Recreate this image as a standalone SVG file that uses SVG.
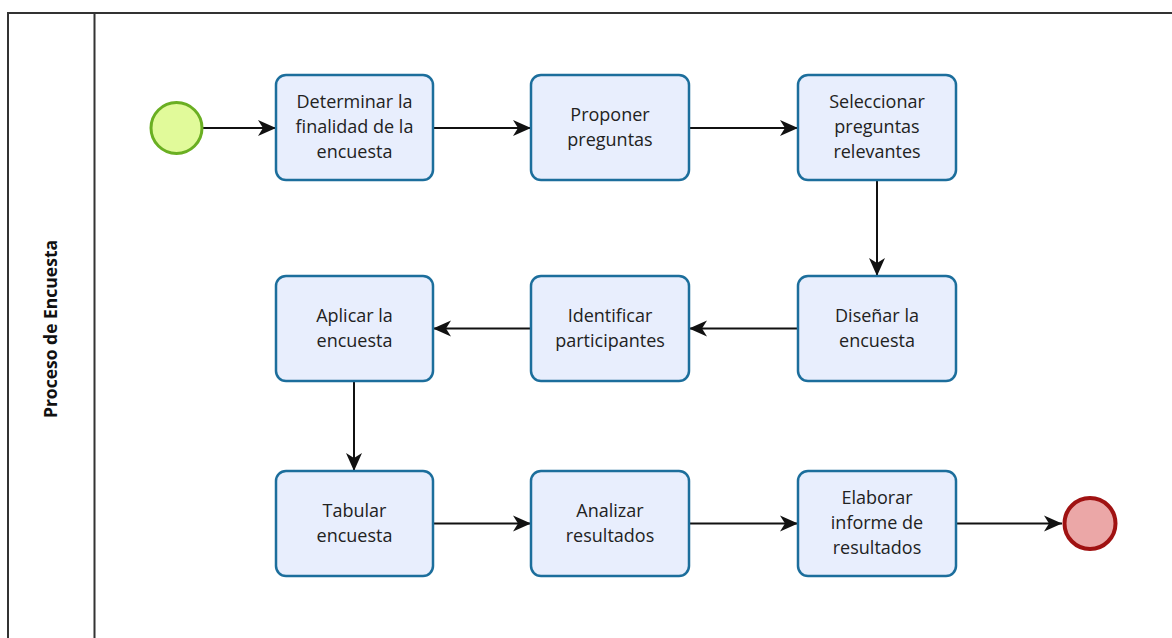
<svg xmlns="http://www.w3.org/2000/svg" width="1172" height="638" viewBox="0 0 1172 638">
  <defs>
    <style>
      .pool { fill: #ffffff; stroke: #333333; stroke-width: 2; }
      .task rect { fill: #e8eefd; stroke: #1c6e9c; stroke-width: 2.5; }
      .task text { font-family: "Open Sans", "Noto Sans", sans-serif; font-size: 18px; fill: #222222; text-anchor: middle; }
      .flow { fill: none; stroke: #111111; stroke-width: 2; marker-end: url(#arrow); }
      .lane-label { font-family: "Open Sans", "Noto Sans", sans-serif; font-size: 17.5px; font-weight: bold; fill: #111111; text-anchor: middle; }
    </style>
    <marker id="arrow" viewBox="0 0 20 20" refX="19" refY="10" markerWidth="20" markerHeight="20" markerUnits="userSpaceOnUse" orient="auto">
      <path d="M1,2 L19,10 L1,18 L6,10 Z" fill="#111111"/>
    </marker>
  </defs>

  <rect width="1172" height="638" fill="#ffffff"/>

  <!-- pool with its lane header -->
  <g id="pool">
    <rect class="pool" x="8" y="13" width="1180" height="640"/>
    <line x1="94.5" y1="13" x2="94.5" y2="640" stroke="#333333" stroke-width="2"/>
    <text class="lane-label" transform="translate(57,329) rotate(-90)">Proceso de Encuesta</text>
  </g>

  <!-- sequence flows -->
  <g id="connectors">
    <line class="flow" x1="203" y1="128" x2="276" y2="128"/>
    <line class="flow" x1="433" y1="128" x2="531" y2="128"/>
    <line class="flow" x1="689" y1="128" x2="798" y2="128"/>
    <line class="flow" x1="877" y1="180" x2="877" y2="276"/>
    <line class="flow" x1="798" y1="328.5" x2="689" y2="328.5"/>
    <line class="flow" x1="531" y1="328.5" x2="433" y2="328.5"/>
    <line class="flow" x1="354" y1="381" x2="354" y2="471"/>
    <line class="flow" x1="433" y1="523.5" x2="531" y2="523.5"/>
    <line class="flow" x1="689" y1="523.5" x2="798" y2="523.5"/>
    <line class="flow" x1="956" y1="523.5" x2="1062" y2="523.5"/>
  </g>

  <!-- events -->
  <g id="start">
    <circle cx="176.5" cy="128" r="25.5" fill="#e1fa9a" stroke="#6aaf22" stroke-width="3"/>
  </g>
  <g id="end">
    <circle cx="1090" cy="523.5" r="25.5" fill="#eba7a7" stroke="#a01212" stroke-width="4"/>
  </g>

  <!-- tasks -->
  <g id="task1" class="task">
    <rect x="276" y="75" width="157" height="105" rx="10"/>
    <text x="354.5" y="108">Determinar la</text>
    <text x="354.5" y="133">finalidad de la</text>
    <text x="354.5" y="158">encuesta</text>
  </g>
  <g id="task2" class="task">
    <rect x="531" y="75" width="158" height="105" rx="10"/>
    <text x="610" y="120.5">Proponer</text>
    <text x="610" y="145.5">preguntas</text>
  </g>
  <g id="task3" class="task">
    <rect x="798" y="75" width="158" height="105" rx="10"/>
    <text x="877" y="108">Seleccionar</text>
    <text x="877" y="133">preguntas</text>
    <text x="877" y="158">relevantes</text>
  </g>
  <g id="task4" class="task">
    <rect x="798" y="276" width="158" height="105" rx="10"/>
    <text x="877" y="321.5">Diseñar la</text>
    <text x="877" y="346.5">encuesta</text>
  </g>
  <g id="task5" class="task">
    <rect x="531" y="276" width="158" height="105" rx="10"/>
    <text x="610" y="321.5">Identificar</text>
    <text x="610" y="346.5">participantes</text>
  </g>
  <g id="task6" class="task">
    <rect x="276" y="276" width="157" height="105" rx="10"/>
    <text x="354.5" y="321.5">Aplicar la</text>
    <text x="354.5" y="346.5">encuesta</text>
  </g>
  <g id="task7" class="task">
    <rect x="276" y="471" width="157" height="105" rx="10"/>
    <text x="354.5" y="516.5">Tabular</text>
    <text x="354.5" y="541.5">encuesta</text>
  </g>
  <g id="task8" class="task">
    <rect x="531" y="471" width="158" height="105" rx="10"/>
    <text x="610" y="516.5">Analizar</text>
    <text x="610" y="541.5">resultados</text>
  </g>
  <g id="task9" class="task">
    <rect x="798" y="471" width="158" height="105" rx="10"/>
    <text x="877" y="504">Elaborar</text>
    <text x="877" y="529">informe de</text>
    <text x="877" y="554">resultados</text>
  </g>
</svg>
